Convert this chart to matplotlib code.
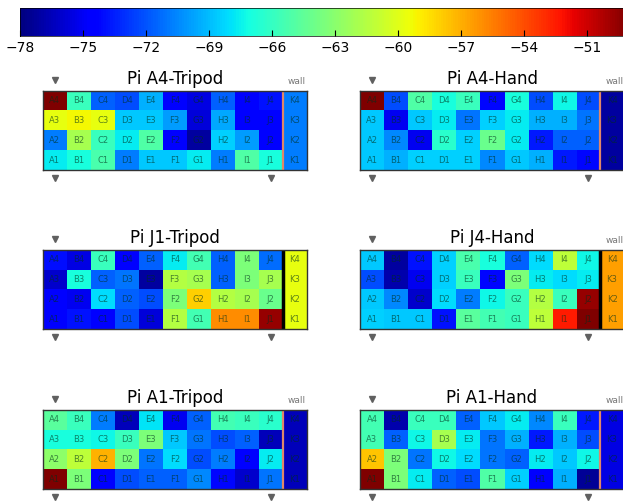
import numpy as np
import matplotlib
matplotlib.use("Agg")
import matplotlib.pyplot as plt

# signal strength (dBm) per cell, rows top->bottom = 4,3,2,1 ; columns A..K
cols = list("ABCDEFGHIJK")
rows = [4, 3, 2, 1]

a4_tripod = [
    [-49.0, -65.8, -71.6, -72.2, -69.3, -74.5, -75.4, -71.6, -74.5, -73.9, -70.8],
    [-59.7, -59.2, -59.7, -68.7, -68.7, -69.9, -75.7, -69.6, -74.5, -74.5, -70.8],
    [-70.8, -62.0, -65.8, -67.6, -65.0, -74.5, -77.1, -68.4, -69.9, -74.5, -70.8],
    [-67.6, -67.0, -65.2, -70.8, -68.7, -68.7, -67.6, -70.8, -65.0, -67.0, -70.8],
]
a4_hand = [
    [-49.0, -72.2, -65.0, -67.0, -65.8, -74.2, -67.0, -72.2, -67.3, -72.2, -77.1],
    [-68.7, -75.1, -68.7, -67.6, -71.0, -68.4, -67.6, -69.3, -69.3, -71.0, -77.1],
    [-68.7, -70.5, -75.1, -66.4, -68.4, -64.1, -67.6, -73.6, -71.6, -71.6, -77.1],
    [-68.7, -69.3, -68.4, -68.4, -68.4, -70.5, -68.7, -69.3, -73.6, -74.2, -77.1],
]
j1_tripod = [
    [-74.0, -75.4, -65.8, -74.5, -71.6, -67.6, -65.5, -71.6, -63.5, -71.3, -59.7],
    [-76.0, -67.0, -71.6, -71.0, -77.1, -61.5, -62.0, -71.6, -63.5, -62.0, -59.7],
    [-74.5, -75.1, -68.1, -71.6, -72.2, -63.5, -58.0, -61.5, -62.0, -64.1, -59.7],
    [-74.5, -73.9, -74.5, -72.2, -75.7, -61.5, -65.5, -56.0, -56.0, -49.6, -59.7],
]
j4_hand = [
    [-68.7, -77.1, -73.9, -68.4, -65.2, -67.0, -71.6, -68.1, -61.2, -67.3, -56.5],
    [-72.2, -76.8, -75.1, -68.4, -65.8, -74.2, -63.5, -67.6, -68.1, -67.6, -56.5],
    [-68.7, -70.5, -76.0, -68.1, -70.8, -67.3, -65.8, -61.5, -65.8, -49.6, -56.5],
    [-68.4, -68.7, -68.7, -73.9, -64.7, -65.5, -65.8, -61.2, -52.5, -49.0, -56.5],
]
a1_tripod = [
    [-64.7, -65.8, -70.8, -76.5, -67.9, -75.1, -71.6, -65.5, -65.8, -66.4, -76.5],
    [-67.0, -67.0, -67.3, -65.8, -63.5, -68.7, -71.0, -72.2, -71.6, -76.5, -76.5],
    [-62.9, -61.2, -57.1, -63.5, -71.0, -68.1, -72.2, -70.8, -74.5, -67.6, -76.5],
    [-49.0, -63.5, -74.5, -72.2, -71.6, -71.6, -70.5, -74.2, -76.0, -71.0, -76.5],
]
a1_hand = [
    [-65.5, -76.8, -65.8, -65.8, -71.6, -68.7, -67.6, -70.5, -65.8, -73.6, -75.4],
    [-65.5, -71.6, -67.3, -62.0, -67.6, -71.0, -69.3, -73.6, -69.3, -72.2, -75.4],
    [-57.7, -63.5, -71.0, -67.3, -68.1, -71.0, -71.6, -67.6, -68.7, -67.3, -75.4],
    [-49.0, -63.5, -67.6, -71.6, -72.2, -65.0, -68.4, -74.5, -69.3, -77.4, -75.4],
]

titles = ["Pi A4-Tripod", "Pi A4-Hand", "Pi J1-Tripod", "Pi J4-Hand",
          "Pi A1-Tripod", "Pi A1-Hand"]
panels = [a4_tripod, a4_hand, j1_tripod, j4_hand, a1_tripod, a1_hand]
wall_color = ["#e0876a", "#e0876a", "black", "black", "#e0876a", "#e0876a"]
wall_label = [True, True, False, True, True, True]

vmin, vmax = -78, -49
W, H = 623, 501
fig = plt.figure(figsize=(W / 100, H / 100), dpi=100)

lefts = [42.7, 360]
tops = [91, 250, 410]
pw, ph = 264, 79

im = None
for k, (data, title) in enumerate(zip(panels, titles)):
    x0 = lefts[k % 2]
    y0 = tops[k // 2]
    ax = fig.add_axes([x0 / W, 1 - (y0 + ph) / H, pw / W, ph / H])
    im = ax.imshow(np.array(data), cmap="jet", vmin=vmin, vmax=vmax,
                   extent=(0, 11, 0, 4), aspect="auto", origin="upper",
                   interpolation="nearest")
    for r, rn in enumerate(rows):
        for c, cn in enumerate(cols):
            ax.text(c + 0.5, 3.5 - r, f"{cn}{rn}", ha="center", va="center",
                    fontsize=6, color="#00301c", alpha=0.6)
    ax.axvline(10, color=wall_color[k], lw=1.6 if wall_color[k] != "black" else 2.5)
    ax.set_xlim(0, 11)
    ax.set_ylim(0, 4)
    ax.set_xticks([])
    ax.set_yticks([])
    for s in ax.spines.values():
        s.set_color("#333333")
        s.set_linewidth(1.0)
    ax.set_title(title, fontsize=12, pad=5)
    # beacon markers
    ax.plot([0.5], [4.55], marker="v", ms=5, color="#606060", clip_on=False)
    ax.plot([0.5, 9.5], [-0.38, -0.38], ls="none", marker="v", ms=5,
            color="#606060", clip_on=False)
    if wall_label[k]:
        ax.text(10.6, 4.5, "wall", fontsize=6.5, color="#777777",
                ha="center", va="center", clip_on=False)

cax = fig.add_axes([20 / W, 1 - 36 / H, 609 / W, 28 / H])
cb = fig.colorbar(im, cax=cax, orientation="horizontal",
                  ticks=np.arange(-78, -50, 3))
cb.outline.set_linewidth(0.5)
cax.tick_params(direction="in", length=4, labelsize=10, colors="black")

fig.savefig("out.png", dpi=100)
